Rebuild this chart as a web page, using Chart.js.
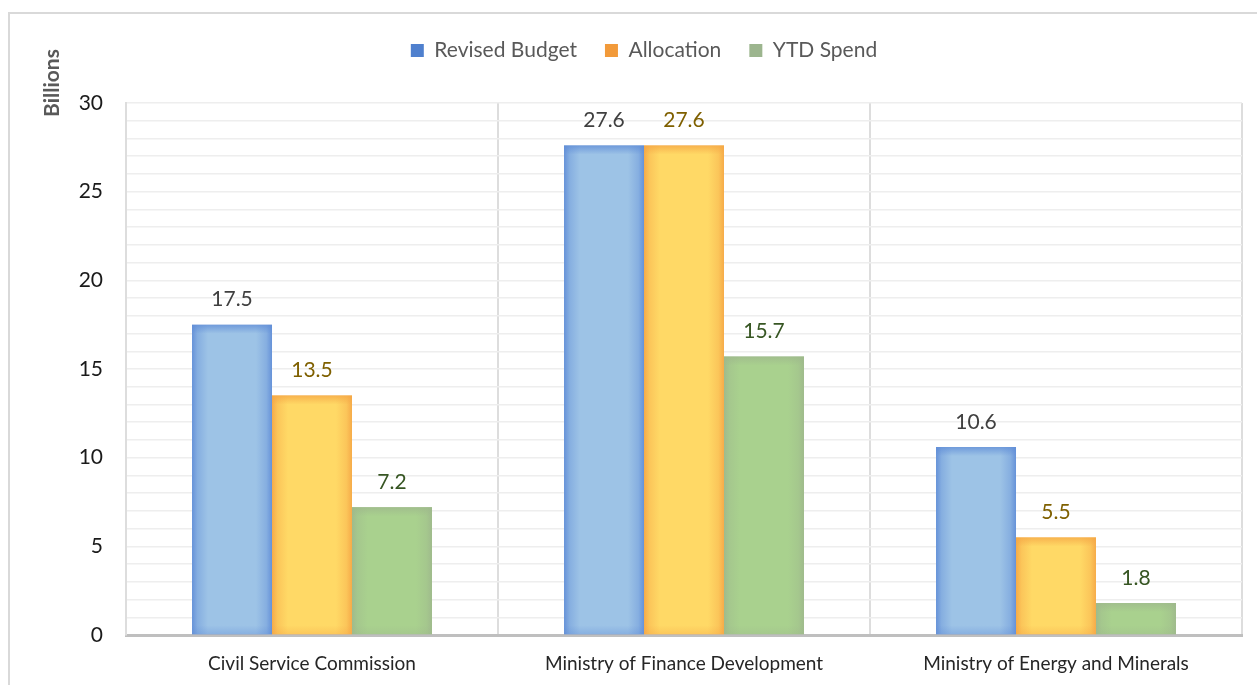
<!DOCTYPE html>
<html>
<head>
<meta charset="utf-8">
<script src="https://cdn.jsdelivr.net/npm/chart.js@4.4.1/dist/chart.umd.min.js"></script>
<style>
html,body{margin:0;padding:0;background:#fff;}
#wrap{width:1257px;height:685px;position:relative;}
</style>
</head>
<body>
<div id="wrap"><canvas id="c" width="1257" height="685"></canvas></div>
<script>
const categories = ["Civil Service Commission", "Ministry of Finance Development", "Ministry of Energy and Minerals"];
const revisedBudget = [17.5, 27.6, 10.6];
const allocation = [13.5, 27.6, 5.5];
const ytdSpend = [7.2, 15.7, 1.8];
const seriesNames = ["Revised Budget", "Allocation", "YTD Spend"];
const yAxisTitle = "Billions";
const yMin = 0, yMax = 30;

const FONT = "Lato, 'Open Sans', 'Liberation Sans', sans-serif";
const legendColors = ["#4F80CE", "#F29A3A", "#9CB58E"];
const centerColors = ["#9DC3E6", "#FFD966", "#A9D18E"];
const edgeColors = [[96,141,215],[245,166,70],[158,184,140]];
const labelColors = ["#404040", "#7F6000", "#375623"];

const framePlugin = {
  id: 'frame',
  beforeLayout(chart) {
    const lg = chart.legend;
    if (lg && !lg._patchedFit) {
      const orig = lg.fit.bind(lg);
      lg.fit = function () { orig(); this.height = 91; };
      lg._patchedFit = true;
    }
  },
  beforeDraw(chart) {
    const ctx = chart.ctx;
    ctx.save();
    ctx.fillStyle = '#fff';
    ctx.fillRect(0, 0, chart.width, chart.height);
    ctx.strokeStyle = '#D9D9D9';
    ctx.lineWidth = 2;
    ctx.beginPath();
    ctx.moveTo(9, chart.height);
    ctx.lineTo(9, 13);
    ctx.lineTo(chart.width, 13);
    ctx.stroke();
    ctx.restore();
  },
  afterDraw(chart) {
    const ctx = chart.ctx;
    ctx.save();
    ctx.translate(52, 83);
    ctx.rotate(-Math.PI / 2);
    ctx.fillStyle = '#595959';
    ctx.font = "bold 21px " + FONT;
    ctx.textAlign = 'center';
    ctx.textBaseline = 'middle';
    ctx.fillText(yAxisTitle, 0, 0);
    ctx.restore();
  }
};

const barStylePlugin = {
  id: 'barStyle',
  afterDatasetDraw(chart, args) {
    const ctx = chart.ctx;
    const i = args.index;
    const e = edgeColors[i];
    const rgba = a => `rgba(${e[0]},${e[1]},${e[2]},${a})`;
    args.meta.data.forEach(el => {
      const p = el.getProps(['x', 'y', 'base', 'width'], true);
      const l = p.x - p.width / 2, r = p.x + p.width / 2, t = p.y, b = p.base;
      const w = r - l, h = b - t;
      ctx.save();
      ctx.beginPath();
      ctx.rect(l, t, w, h);
      ctx.clip();
      ctx.fillStyle = centerColors[i];
      ctx.fillRect(l, t, w, h);
      const band = Math.min(16, w / 2);
      let g = ctx.createLinearGradient(l, 0, l + band, 0);
      g.addColorStop(0, rgba(0.9)); g.addColorStop(0.35, rgba(0.38)); g.addColorStop(1, rgba(0));
      ctx.fillStyle = g; ctx.fillRect(l, t, band, h);
      g = ctx.createLinearGradient(r, 0, r - band, 0);
      g.addColorStop(0, rgba(0.9)); g.addColorStop(0.35, rgba(0.38)); g.addColorStop(1, rgba(0));
      ctx.fillStyle = g; ctx.fillRect(r - band, t, band, h);
      const vb = Math.min(9, h / 2);
      g = ctx.createLinearGradient(0, t, 0, t + vb);
      g.addColorStop(0, rgba(0.75)); g.addColorStop(1, rgba(0));
      ctx.fillStyle = g; ctx.fillRect(l, t, w, vb);
      g = ctx.createLinearGradient(0, b, 0, b - vb);
      g.addColorStop(0, rgba(0.35)); g.addColorStop(1, rgba(0));
      ctx.fillStyle = g; ctx.fillRect(l, b - vb, w, vb);
      ctx.restore();
    });
  },
  afterDatasetsDraw(chart) {
    const ctx = chart.ctx;
    ctx.save();
    ctx.font = "21px " + FONT;
    ctx.textAlign = 'center';
    ctx.textBaseline = 'middle';
    chart.data.datasets.forEach((ds, i) => {
      const meta = chart.getDatasetMeta(i);
      ctx.fillStyle = labelColors[i];
      meta.data.forEach((el, j) => {
        const p = el.getProps(['x', 'y'], true);
        ctx.fillText(ds.data[j].toFixed(1), p.x, p.y - 25);
      });
    });
    ctx.restore();
  }
};

new Chart(document.getElementById('c'), {
  type: 'bar',
  data: {
    labels: categories,
    datasets: [
      { label: seriesNames[0], data: revisedBudget, backgroundColor: legendColors[0] },
      { label: seriesNames[1], data: allocation, backgroundColor: legendColors[1] },
      { label: seriesNames[2], data: ytdSpend, backgroundColor: legendColors[2] }
    ]
  },
  options: {
    responsive: false,
    animation: false,
    devicePixelRatio: 1,
    categoryPercentage: 0.645,
    barPercentage: 1,
    layout: { padding: { top: 12, right: 15, left: 46, bottom: 0 } },
    plugins: {
      legend: {
        position: 'top',
        labels: {
          boxWidth: 13, boxHeight: 13, padding: 28,
          color: '#595959',
          font: { family: FONT, size: 21 }
        }
      },
      tooltip: { enabled: false }
    },
    scales: {
      x: {
        grid: { offset: true, color: '#DDDDDD', lineWidth: 2, drawTicks: false },
        border: { color: '#BFBFBF', width: 3 },
        ticks: { color: '#262626', padding: 17, font: { family: FONT, size: 19 } },
        afterFit(s) { s.height = 50; }
      },
      y: {
        min: yMin, max: yMax,
        grid: { color: '#EEEEEE', lineWidth: 1.5, drawTicks: false },
        border: { color: '#DDDDDD', width: 2 },
        ticks: {
          stepSize: 1, padding: 23, color: '#1a1a1a',
          autoSkip: false, maxTicksLimit: 100,
          font: { family: FONT, size: 21 },
          callback: v => (v % 5 === 0 ? String(v) : '')
        },
        afterFit(s) { s.width = 80; }
      }
    }
  },
  plugins: [framePlugin, barStylePlugin]
});
</script>
</body>
</html>
